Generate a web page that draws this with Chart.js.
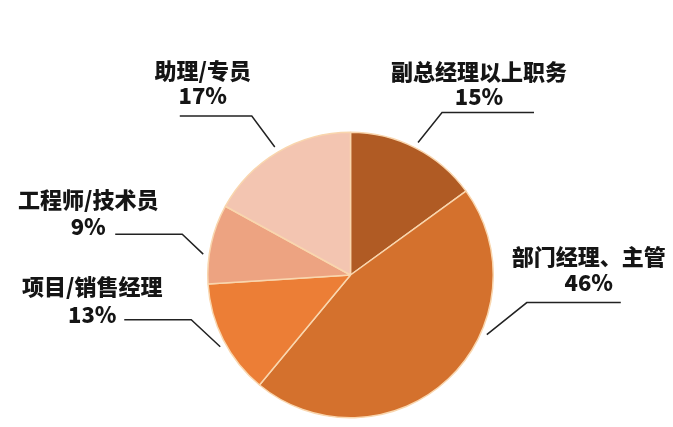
<!DOCTYPE html>
<html>
<head>
<meta charset="utf-8">
<script src="https://cdn.jsdelivr.net/npm/chart.js@4/dist/chart.umd.min.js"></script>
<style>
  html, body { margin: 0; padding: 0; background: #fff; }
  #wrap { width: 673px; height: 427px; }
</style>
</head>
<body>
<div id="wrap"><canvas id="pieChart" width="673" height="427"></canvas></div>
<script>
// Data (clockwise from 12 o'clock)
const categories = ['副总经理以上职务', '部门经理、主管', '项目/销售经理', '工程师/技术员', '助理/专员'];
const shares = [15, 46, 13, 9, 17];
const sliceColors = ['#B05B24', '#D4712D', '#EC7E36', '#EDA381', '#F3C5B1'];

// Leader line layout: where on the arc the line starts (0..1), elbow offset,
// horizontal run, and text offsets relative to the elbow
const leaderLayout = [
    { frac: 0.5,  elbow: [24, -30], run: 92,  text: [37, -41, -16] },
    { frac: 0.36, elbow: [40, -32], run: 94,  text: [62, -46, -20] },
    { frac: 0.46, elbow: [-29, -27], run: -67, text: [-99, -33, -5] },
    { frac: 0.36, elbow: [-21, -20], run: -67, text: [-94, -34, -7] },
    { frac: 0.5,  elbow: [-23, -31], run: -72, text: [-49, -45, -20] }
];

const leaderLabels = {
    id: 'leaderLabels',
    afterDraw(chart) {
        const ctx = chart.ctx;
        const arcs = chart.getDatasetMeta(0).data;
        ctx.save();
        arcs.forEach((arc, i) => {
            const p = arc.getProps(['x', 'y', 'startAngle', 'endAngle', 'outerRadius'], true);
            const lay = leaderLayout[i];
            const a = p.startAngle + (p.endAngle - p.startAngle) * lay.frac;
            const r = p.outerRadius + 6;
            const sx = p.x + Math.cos(a) * r;
            const sy = p.y + Math.sin(a) * r;
            const ex = sx + lay.elbow[0];
            const ey = sy + lay.elbow[1];
            ctx.strokeStyle = '#222';
            ctx.lineWidth = 1.5;
            ctx.beginPath();
            ctx.moveTo(sx, sy);
            ctx.lineTo(ex, ey);
            ctx.lineTo(ex + lay.run, ey);
            ctx.stroke();

            ctx.fillStyle = '#151515';
            ctx.font = '900 22px "Noto Sans CJK SC", "Noto Sans", sans-serif';
            ctx.textAlign = 'center';
            ctx.textBaseline = 'middle';
            const cx = ex + lay.text[0];
            ctx.fillText(categories[i], cx, ey + lay.text[1]);
            ctx.fillText(shares[i] + '%', cx, ey + lay.text[2]);
        });
        ctx.restore();
    }
};

const ctx = document.getElementById('pieChart').getContext('2d');
const pieChart = new Chart(ctx, {
    type: 'pie',
    data: {
        labels: categories,
        datasets: [{
            data: shares,
            backgroundColor: sliceColors,
            borderColor: '#F9D6AE',
            borderWidth: 1.5,
            hoverOffset: 0
        }]
    },
    options: {
        responsive: false,
        animation: false,
        layout: {
            padding: { top: 131, bottom: 8, left: 207, right: 179 }
        },
        plugins: {
            legend: { display: false },
            tooltip: { enabled: false }
        }
    },
    plugins: [leaderLabels]
});
</script>
</body>
</html>
